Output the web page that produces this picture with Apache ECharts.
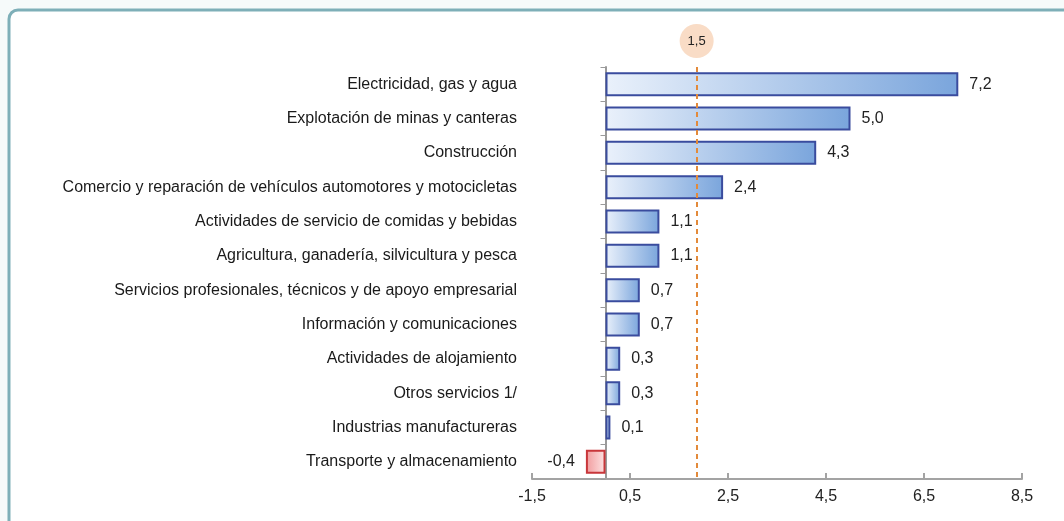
<!DOCTYPE html>
<html>
<head>
<meta charset="utf-8">
<script src="https://cdn.jsdelivr.net/npm/echarts@6/dist/echarts.min.js"></script>
<style>
  html, body { margin: 0; padding: 0; background: #f6fafa; }
  #chart { width: 1064px; height: 521px; }
</style>
</head>
<body>
<div id="chart"></div>
<script>
var sectores = [
  'Electricidad, gas y agua',
  'Explotación de minas y canteras',
  'Construcción',
  'Comercio y reparación de vehículos automotores y motocicletas',
  'Actividades de servicio de comidas y bebidas',
  'Agricultura, ganadería, silvicultura y pesca',
  'Servicios profesionales, técnicos y de apoyo empresarial',
  'Información y comunicaciones',
  'Actividades de alojamiento',
  'Otros servicios 1/',
  'Industrias manufactureras',
  'Transporte y almacenamiento'
];
var variacion = [7.2, 5.0, 4.3, 2.4, 1.1, 1.1, 0.7, 0.7, 0.3, 0.3, 0.1, -0.4];
var xTicks = [-1.5, 0.5, 2.5, 4.5, 6.5, 8.5];

// promedio: label says 1,5 but the dashed line in the source sits near 1.86
var promedioTexto = '1,5';
var promedioPos = 1.86;

var font = '"Liberation Sans Narrow", "Liberation Sans", Arial, sans-serif';

function coma(v) {
  return v.toFixed(1).replace('.', ',');
}

function blueFill() {
  return new echarts.graphic.LinearGradient(0, 0, 1, 0, [
    {offset: 0, color: '#eaf1fb'},
    {offset: 1, color: '#7aa5dc'}
  ]);
}

var data = variacion.map(function(v) {
  if (v < 0) {
    return {
      value: v,
      itemStyle: {
        color: new echarts.graphic.LinearGradient(0, 0, 1, 0, [
          {offset: 0, color: '#f19a9c'},
          {offset: 1, color: '#fde4e4'}
        ]),
        borderColor: '#c8363a'
      },
      label: {position: 'left'}
    };
  }
  return {value: v};
});

var chart = echarts.init(document.getElementById('chart'));
chart.setOption({
  backgroundColor: '#f6fafa',
  animation: false,
  graphic: [{
    type: 'rect',
    z: -10,
    silent: true,
    shape: {x: 9, y: 10, width: 1100, height: 560, r: 9},
    style: {fill: '#ffffff', stroke: '#7eafb8', lineWidth: 3}
  }],
  grid: {left: 532, right: 42, top: 67, bottom: 42},
  xAxis: {
    type: 'value',
    min: xTicks[0],
    max: xTicks[xTicks.length - 1],
    interval: 2,
    splitLine: {show: false},
    axisLine: {show: true, lineStyle: {color: '#a3a3a3', width: 2}},
    axisTick: {show: true, inside: true, length: 6, lineStyle: {color: '#a3a3a3', width: 2}},
    axisLabel: {
      margin: 10,
      fontFamily: font,
      fontSize: 16,
      color: '#222',
      formatter: function(v) { return coma(v); }
    }
  },
  yAxis: {
    type: 'category',
    inverse: true,
    data: sectores,
    axisLine: {onZero: true, lineStyle: {color: '#9a9a9a', width: 2}},
    axisTick: {show: true, length: 5, lineStyle: {color: '#9a9a9a'}},
    axisLabel: {
      margin: 15,
      fontFamily: font,
      fontSize: 16,
      color: '#1a1a1a'
    }
  },
  series: [{
    type: 'bar',
    data: data,
    barWidth: 24,
    itemStyle: {
      color: blueFill(),
      borderColor: '#3a4c9e',
      borderWidth: 2
    },
    label: {
      show: true,
      position: 'right',
      distance: 11,
      fontFamily: font,
      fontSize: 16,
      color: '#222',
      formatter: function(p) { return coma(p.value); }
    },
    markLine: {
      silent: true,
      symbol: 'none',
      lineStyle: {color: '#e38a3a', type: [5, 4], width: 2},
      label: {
        show: true,
        position: 'start',
        distance: 9,
        formatter: promedioTexto,
        backgroundColor: '#f9dcc6',
        borderRadius: 17,
        width: 34,
        height: 34,
        lineHeight: 34,
        align: 'center',
        fontFamily: font,
        fontSize: 13,
        color: '#222'
      },
      data: [{xAxis: promedioPos}]
    }
  }]
});
</script>
</body>
</html>
